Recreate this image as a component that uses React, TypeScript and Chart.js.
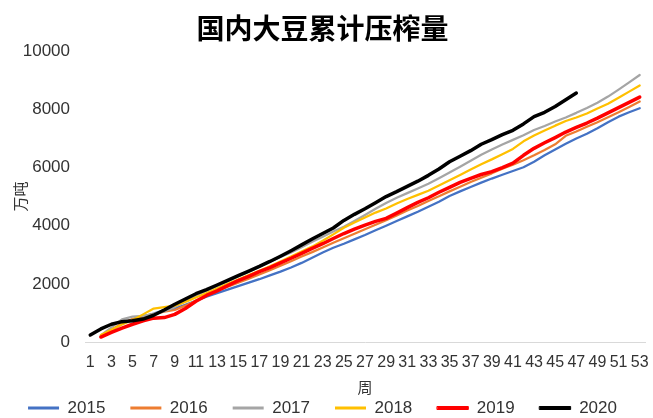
import React, { useEffect, useRef } from 'react';
import { Chart, registerables } from 'chart.js';

Chart.register(...registerables);

const weeks = [
  '1', '2', '3', '4', '5', '6', '7', '8', '9', '10', '11', '12', '13', '14', '15', '16', '17', '18',
  '19', '20', '21', '22', '23', '24', '25', '26', '27', '28', '29', '30', '31', '32', '33', '34', '35',
  '36', '37', '38', '39', '40', '41', '42', '43', '44', '45', '46', '47', '48', '49', '50', '51', '52', '53',
];

const s2015 = [
  null, 200, 400, 620, 780, 880, 980, 1100, 1150, 1280, 1420, 1560, 1680, 1800, 1920, 2040, 2160, 2290,
  2420, 2560, 2720, 2900, 3080, 3240, 3380, 3530, 3680, 3840, 4000, 4160, 4320, 4480, 4650, 4820, 5020,
  5180, 5330, 5480, 5620, 5750, 5880, 6010, 6200, 6420, 6620, 6820, 7000, 7160, 7350, 7560, 7750, 7900, 8040,
];
const s2016 = [
  null, 210, 420, 640, 790, 870, 960, 1040, 1100, 1250, 1420, 1590, 1760, 1900, 2040, 2180, 2320, 2470,
  2620, 2780, 2940, 3090, 3250, 3410, 3570, 3720, 3880, 4030, 4190, 4350, 4520, 4680, 4850, 5010, 5180,
  5340, 5500, 5650, 5800, 5960, 6100, 6250, 6420, 6600, 6800, 7090, 7240, 7400, 7560, 7730, 7900, 8080, 8270,
];
const s2017 = [
  null, 230, 500, 780, 870, 900, 960, 1060, 1200, 1400, 1600, 1760, 1920, 2090, 2250, 2420, 2590, 2760,
  2920, 3080, 3260, 3450, 3620, 3800, 3960, 4160, 4370, 4580, 4780, 4960, 5120, 5280, 5440, 5630, 5830,
  6030, 6230, 6440, 6620, 6790, 6950, 7110, 7290, 7430, 7580, 7720, 7880, 8050, 8230, 8440, 8680, 8930, 9180,
];
const s2018 = [
  null, 240, 420, 600, 760, 950, 1150, 1200, 1250, 1380, 1530, 1680, 1840, 2000, 2150, 2300, 2450, 2600,
  2770, 2940, 3110, 3280, 3480, 3700, 3930, 4110, 4280, 4450, 4590, 4760, 4920, 5060, 5200, 5380, 5560,
  5740, 5930, 6110, 6280, 6460, 6640, 6900, 7100, 7270, 7440, 7600, 7720, 7860, 8030, 8190, 8400, 8610, 8820,
];
const s2019 = [
  null, 170, 330, 480, 610, 730, 820, 840, 950, 1150, 1400, 1600, 1760, 1940, 2110, 2260, 2420, 2560,
  2720, 2880, 3050, 3220, 3380, 3560, 3730, 3880, 4020, 4150, 4250, 4430, 4620, 4800, 4960, 5150, 5320,
  5490, 5630, 5760, 5860, 6000, 6150, 6420, 6660, 6850, 7030, 7220, 7380, 7530, 7700, 7880, 8060, 8240, 8420,
];
const s2020 = [
  240, 450, 610, 700, 730, 790, 920, 1100, 1300, 1480, 1660, 1800, 1960, 2120, 2280, 2440, 2600, 2770,
  2950, 3140, 3340, 3540, 3730, 3920, 4180, 4390, 4580, 4790, 5000, 5170, 5350, 5530, 5730, 5950, 6200,
  6390, 6580, 6800, 6960, 7130, 7280, 7500, 7750, 7900, 8100, 8330, 8560, null, null, null, null, null, null,
];

const seriesNames = ['2015', '2016', '2017', '2018', '2019', '2020'];
const seriesData = [s2015, s2016, s2017, s2018, s2019, s2020];
const seriesColors = ['#4472C4', '#ED7D31', '#A5A5A5', '#FFC000', '#FF0000', '#000000'];
const seriesWidths = [2.25, 2.25, 2.25, 2.25, 3.5, 3.5];

const yTicksMin = 0;
const yTicksMax = 10000;
const yTickStep = 2000;

const titleText = '国内大豆累计压榨量';
const yTitle = '万吨';
const xTitle = '周';

const latin = '"Liberation Sans", Arial, sans-serif';
const cjk = '"Noto Sans CJK SC", "Noto Sans", sans-serif';

export default function App() {
  const ref = useRef<HTMLCanvasElement>(null);

  useEffect(() => {
    if (!ref.current) return;
    const n = seriesNames.length;
    const chart = new Chart(ref.current, {
      type: 'line',
      data: {
        labels: weeks,
        datasets: seriesNames.map((name, i) => ({
          label: name,
          data: seriesData[i],
          borderColor: seriesColors[i],
          backgroundColor: seriesColors[i],
          borderWidth: seriesWidths[i],
          pointRadius: 0,
          pointHoverRadius: 0,
          tension: 0,
          fill: false,
          spanGaps: false,
          borderJoinStyle: 'round',
          borderCapStyle: 'round',
          order: n - 1 - i,
        })),
      },
      options: {
        responsive: false,
        animation: false,
        layout: { padding: { left: 0, right: 8, top: 0, bottom: -8.5 } },
        plugins: {
          title: {
            display: true,
            text: titleText,
            color: '#000',
            font: { family: cjk, size: 28, weight: 'bold', lineHeight: 1.2 },
            padding: { top: 11.7, bottom: 5.9 },
          },
          legend: {
            position: 'bottom',
            labels: {
              boxWidth: 31,
              boxHeight: 3,
              padding: 25,
              color: '#333',
              font: { family: latin, size: 17 },
              sort: (a: any, b: any) => a.datasetIndex - b.datasetIndex,
              generateLabels: (chart: any) => {
                const items = Chart.defaults.plugins.legend.labels.generateLabels(chart);
                return items.map((it: any) => ({
                  ...it,
                  fillStyle: seriesColors[it.datasetIndex],
                  strokeStyle: seriesColors[it.datasetIndex],
                  lineWidth: seriesWidths[it.datasetIndex] > 3 ? 1 : 0,
                }));
              },
            },
          },
          tooltip: { enabled: false },
        },
        scales: {
          x: {
            offset: true,
            grid: { display: false, drawTicks: false },
            border: { display: true, color: '#D9D9D9', width: 1 },
            ticks: {
              autoSkip: false,
              maxRotation: 0,
              minRotation: 0,
              padding: 0,
              color: '#333',
              font: { family: latin, size: 16, lineHeight: 2.6 },
              callback: function (this: any, v: any, i: number) {
                return i % 2 === 0 ? this.getLabelForValue(v) : '';
              },
            },
            title: {
              display: true,
              text: xTitle,
              color: '#333',
              font: { family: cjk, size: 15, lineHeight: 1.2 },
              padding: { top: 0, bottom: -21.5 },
            },
            afterFit: (s: any) => {
              s.height = 32.5;
            },
          },
          y: {
            min: yTicksMin,
            max: yTicksMax,
            grid: { display: false, drawTicks: false },
            border: { display: false },
            ticks: {
              stepSize: yTickStep,
              padding: 15,
              color: '#333',
              font: { family: latin, size: 17 },
              callback: (v: any) => String(v),
            },
            title: {
              display: true,
              text: yTitle,
              color: '#333',
              font: { family: cjk, size: 15, lineHeight: 1.2 },
              padding: { top: 11, bottom: 0 },
            },
            afterFit: (s: any) => {
              s.width = 85;
            },
          },
        },
      },
    });
    return () => chart.destroy();
  }, []);

  return (
    <div style={{ position: 'fixed', left: 0, top: 0, width: 653, height: 418, background: '#fff' }}>
      <canvas ref={ref} width={653} height={418} style={{ display: 'block', width: 653, height: 418 }} />
    </div>
  );
}
